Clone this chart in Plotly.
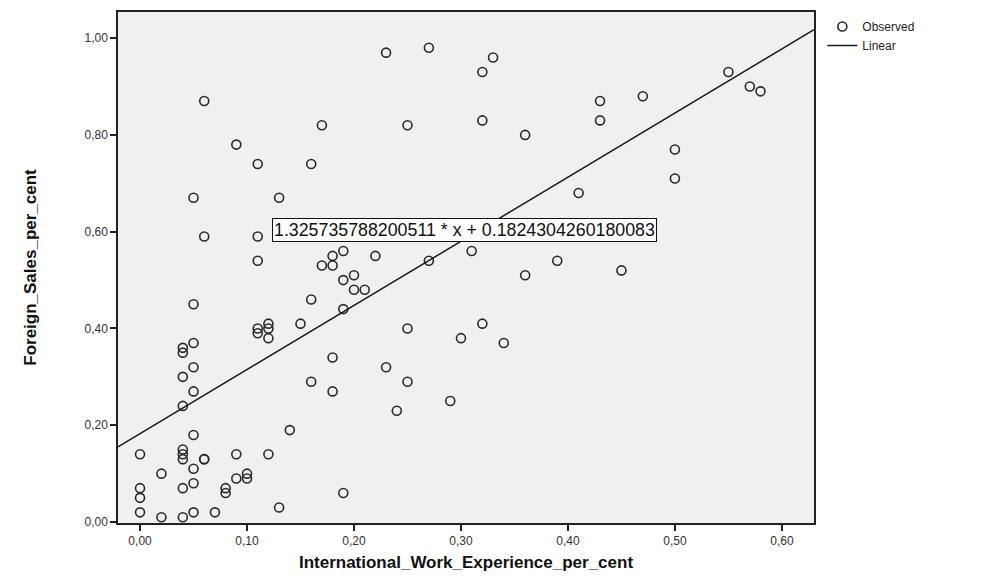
import plotly.graph_objects as go

# Observed data (International_Work_Experience_per_cent, Foreign_Sales_per_cent)
work_exp = [
    0.00, 0.00, 0.00, 0.00,
    0.02, 0.02,
    0.04, 0.04, 0.04, 0.04, 0.04, 0.04, 0.04, 0.04, 0.04,
    0.05, 0.05, 0.05, 0.05, 0.05, 0.05, 0.05, 0.05, 0.05,
    0.06, 0.06, 0.06, 0.06,
    0.07,
    0.08, 0.08,
    0.09, 0.09, 0.09,
    0.10, 0.10,
    0.11, 0.11, 0.11, 0.11, 0.11,
    0.12, 0.12, 0.12, 0.12,
    0.13, 0.13,
    0.14,
    0.15,
    0.16, 0.16, 0.16,
    0.17, 0.17,
    0.18, 0.18, 0.18, 0.18,
    0.19, 0.19, 0.19, 0.19,
    0.20, 0.20,
    0.21,
    0.22,
    0.23, 0.23,
    0.24,
    0.25, 0.25, 0.25,
    0.27, 0.27,
    0.29,
    0.30,
    0.31,
    0.32, 0.32, 0.32,
    0.33,
    0.34,
    0.36, 0.36,
    0.39,
    0.41,
    0.43, 0.43,
    0.45,
    0.47,
    0.50, 0.50,
    0.55,
    0.57,
    0.58,
]
foreign_sales = [
    0.14, 0.07, 0.05, 0.02,
    0.10, 0.01,
    0.36, 0.35, 0.30, 0.24, 0.15, 0.14, 0.13, 0.07, 0.01,
    0.67, 0.45, 0.37, 0.32, 0.27, 0.18, 0.11, 0.08, 0.02,
    0.87, 0.59, 0.13, 0.13,
    0.02,
    0.07, 0.06,
    0.78, 0.14, 0.09,
    0.10, 0.09,
    0.74, 0.59, 0.54, 0.40, 0.39,
    0.41, 0.40, 0.38, 0.14,
    0.67, 0.03,
    0.19,
    0.41,
    0.74, 0.46, 0.29,
    0.82, 0.53,
    0.55, 0.53, 0.34, 0.27,
    0.56, 0.50, 0.44, 0.06,
    0.51, 0.48,
    0.48,
    0.55,
    0.97, 0.32,
    0.23,
    0.82, 0.40, 0.29,
    0.98, 0.54,
    0.25,
    0.38,
    0.56,
    0.93, 0.83, 0.41,
    0.96,
    0.37,
    0.80, 0.51,
    0.54,
    0.68,
    0.87, 0.83,
    0.52,
    0.88,
    0.77, 0.71,
    0.93,
    0.90,
    0.89,
]

# Linear fit coefficients (as printed on the chart)
slope = 1.325735788200511
intercept = 0.1824304260180083

x_range = [-0.0206, 0.630]
y_range = [-0.002, 1.054]
x_ticks = [0.0, 0.1, 0.2, 0.3, 0.4, 0.5, 0.6]
y_ticks = [0.0, 0.2, 0.4, 0.6, 0.8, 1.0]

fit_x = x_range
fit_y = [slope * v + intercept for v in fit_x]

fig = go.Figure()
fig.add_trace(go.Scatter(
    x=work_exp, y=foreign_sales, mode="markers", name="Observed",
    marker=dict(symbol="circle-open", size=9, color="#2a2a2a", line=dict(width=1.6)),
))
fig.add_trace(go.Scatter(
    x=fit_x, y=fit_y, mode="lines", name="Linear",
    line=dict(color="#1a1a1a", width=1.5),
))

fig.add_annotation(
    x=0.1234, y=0.604, xref="x", yref="y", xanchor="left", yanchor="middle",
    text=f"{slope} * x + {intercept}", showarrow=False,
    font=dict(family="Arial, Liberation Sans", size=17.8, color="#111"),
    bgcolor="white", bordercolor="#111", borderwidth=1, borderpad=1,
)

axis_common = dict(
    showgrid=False, zeroline=False, showline=True, linecolor="#222", linewidth=1.5,
    mirror=True, ticks="outside", ticklen=6, tickcolor="#222", tickwidth=1.5,
    tickfont=dict(family="Arial, Liberation Sans", size=12, color="#333"),
    tickformat=".2f",
)

fig.update_layout(
    width=995, height=580,
    margin=dict(l=110, r=189, t=4, b=65, autoexpand=False),
    paper_bgcolor="white", plot_bgcolor="#f0f0f0",
    separators=",.",
    showlegend=True,
    legend=dict(x=1.012, y=1.0, xanchor="left", yanchor="top",
                font=dict(family="Arial, Liberation Sans", size=12, color="#222"),
                bgcolor="rgba(0,0,0,0)", tracegroupgap=0, itemwidth=30),
    xaxis=dict(range=x_range, tickvals=x_ticks, **axis_common,
               title=dict(text="<b>International_Work_Experience_per_cent</b>",
                          font=dict(family="Arial, Liberation Sans", size=17, color="#111"),
                          standoff=9)),
    yaxis=dict(range=y_range, tickvals=y_ticks, **axis_common,
               title=dict(text="<b>Foreign_Sales_per_cent</b>",
                          font=dict(family="Arial, Liberation Sans", size=17, color="#111"),
                          standoff=44)),
)

fig.write_html("out.html")
